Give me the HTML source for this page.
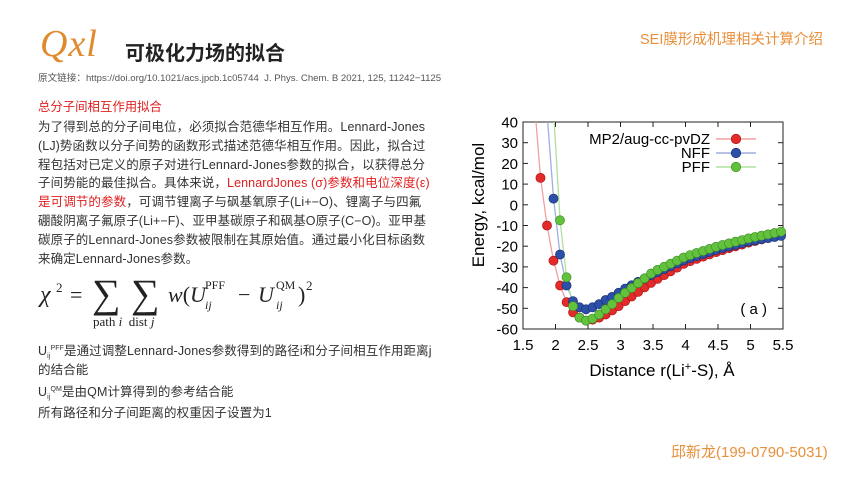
<!DOCTYPE html>
<html><head><meta charset="utf-8"><style>
body{margin:0;width:860px;height:484px;background:#fff;position:relative;overflow:hidden;font-family:"Liberation Sans","Noto Sans CJK SC",sans-serif;color:#222}
.a{position:absolute;white-space:nowrap}
.p{position:absolute;left:38px;font-size:12.5px;line-height:18.8px;color:#333;white-space:nowrap;letter-spacing:0.1px}
.r{color:#e02020}
.m{position:absolute;font-family:'Liberation Serif',serif;color:#222;white-space:nowrap}
.ss{font-size:7px;position:relative;line-height:0}
</style></head><body>
<div class="a" style="left:40px;top:22px;font-family:'Liberation Serif',serif;font-style:italic;font-size:38px;color:#e08a2e;letter-spacing:1px">Qxl</div>
<div class="a" style="left:125px;top:37px;font-size:20px;font-weight:bold;color:#222">可极化力场的拟合</div>
<div class="a" style="left:640px;top:28px;font-size:14.5px;color:#e8903a">SEI膜形成机理相关计算介绍</div>
<div class="a" style="left:38px;top:70px;font-size:9.6px;color:#555">原文链接：https://doi.org/10.1021/acs.jpcb.1c05744&nbsp; J. Phys. Chem. B 2021, 125, 11242−1125</div>
<div class="a r" style="left:38px;top:97px;font-size:12.4px">总分子间相互作用拟合</div>
<div class="p" style="top:118px">为了得到总的分子间电位，必须拟合范德华相互作用。Lennard-Jones<br>(LJ)势函数以分子间势的函数形式描述范德华相互作用。因此，拟合过<br>程包括对已定义的原子对进行Lennard-Jones参数的拟合，以获得总分<br>子间势能的最佳拟合。具体来说，<span class="r">LennardJones (σ)参数和电位深度(ε)</span><br><span class="r">是可调节的参数</span>，可调节锂离子与砜基氧原子(Li+−O)、锂离子与四氟<br>硼酸阴离子氟原子(Li+−F)、亚甲基碳原子和砜基O原子(C−O)。亚甲基<br>碳原子的Lennard-Jones参数被限制在其原始值。通过最小化目标函数<br>来确定Lennard-Jones参数。</div>

<div class="m" style="left:40px;top:282px;font-size:24px"><i>χ</i></div>
<div class="m" style="left:56px;top:280px;font-size:13px">2</div>
<div class="m" style="left:70px;top:282px;font-size:22px">=</div>
<div class="m" style="left:92px;top:270px;font-size:40px">∑</div>
<div class="m" style="left:131px;top:270px;font-size:40px">∑</div>
<div class="m" style="left:168px;top:282px;font-size:22px"><i>w</i>(<i>U</i></div>
<div class="m" style="left:205px;top:278px;font-size:12px">PFF</div>
<div class="m" style="left:205px;top:298px;font-size:12px"><i>ij</i></div>
<div class="m" style="left:238px;top:282px;font-size:22px">−</div>
<div class="m" style="left:258px;top:282px;font-size:22px"><i>U</i></div>
<div class="m" style="left:276px;top:278px;font-size:12px">QM</div>
<div class="m" style="left:276px;top:298px;font-size:12px"><i>ij</i></div>
<div class="m" style="left:298px;top:282px;font-size:22px">)</div>
<div class="m" style="left:306px;top:278px;font-size:13px">2</div>
<div class="m" style="left:93px;top:314px;font-size:13px">path <i>i</i>&nbsp; dist <i>j</i></div>

<div class="p" style="top:342px">U<span class="ss" style="top:3px">ij</span><span class="ss" style="top:-5px">PFF</span>是通过调整Lennard-Jones参数得到的路径i和分子间相互作用距离j<br>的结合能</div>
<div class="p" style="top:383px">U<span class="ss" style="top:3px">ij</span><span class="ss" style="top:-5px">QM</span>是由QM计算得到的参考结合能</div>
<div class="p" style="top:404px">所有路径和分子间距离的权重因子设置为1</div>
<div class="a" style="left:671px;top:441px;font-size:15px;color:#e8903a">邱新龙(199-0790-5031)</div>
<svg id="s" class="a" style="left:0;top:0" width="860" height="484"></svg>
<script>
var L=523,R=783,T=122,B=329;
function X(x){return L+(x-1.5)*65}function Y(y){return T+(40-y)*2.07}
var h='<rect x="'+L+'" y="'+T+'" width="'+(R-L)+'" height="'+(B-T)+'" fill="none" stroke="#222" stroke-width="1"/>';
var f='font-family="Liberation Sans,sans-serif"';
for(var v=40;v>=-60;v-=10){var y=Y(v);h+='<line x1="'+L+'" y1="'+y+'" x2="'+(L+5)+'" y2="'+y+'" stroke="#222"/><line x1="'+R+'" y1="'+y+'" x2="'+(R-5)+'" y2="'+y+'" stroke="#222"/><text x="'+(L-5)+'" y="'+(y+5.5)+'" text-anchor="end" font-size="15" '+f+'>'+v+'</text>';}
for(var x=1.5;x<=5.51;x+=0.5){var xx=X(x);h+='<line x1="'+xx+'" y1="'+B+'" x2="'+xx+'" y2="'+(B-5)+'" stroke="#222"/><line x1="'+xx+'" y1="'+T+'" x2="'+xx+'" y2="'+(T+5)+'" stroke="#222"/><text x="'+xx+'" y="'+(B+21)+'" text-anchor="middle" font-size="15" '+f+'>'+(Math.round(x*10)/10)+'</text>';}
h+='<text x="662" y="376" text-anchor="middle" font-size="17" '+f+'>Distance r(Li<tspan font-size="11" dy="-6">+</tspan><tspan dy="6">-S), Å</tspan></text>';
h+='<text transform="translate(484,205) rotate(-90)" text-anchor="middle" font-size="17" '+f+'>Energy, kcal/mol</text>';
h+='<text x="767" y="314" text-anchor="end" font-size="15" '+f+'>( a )</text>';
function interp(k,x){for(var i=0;i<k.length-1;i++){if(x<=k[i+1][0]){var t=(x-k[i][0])/(k[i+1][0]-k[i][0]);return k[i][1]+t*(k[i+1][1]-k[i][1]);}}return k[k.length-1][1];}
var S=[
{c:'#e42a2a',e:'#a01010',l:'#f0a0a0',s:1.77,k:[[1.70,40],[1.77,13],[1.87,-10],[1.97,-27],[2.07,-39],[2.17,-47],[2.27,-52],[2.37,-54.5],[2.47,-56],[2.57,-55.5],[2.67,-54.5],[2.77,-53],[2.87,-51],[2.97,-49],[3.07,-46.5],[3.5,-37],[4,-28],[4.5,-22.5],[5,-18],[5.47,-14.5]]},
{c:'#2c4fa8',e:'#152c70',l:'#a0aee0',s:1.97,k:[[1.88,40],[1.97,3],[2.07,-24],[2.17,-39],[2.27,-46.5],[2.37,-49.5],[2.47,-50.5],[2.57,-49.5],[2.67,-48],[2.77,-46],[2.87,-44.5],[2.97,-42.5],[3.07,-40.5],[3.5,-33.5],[4,-26.5],[4.5,-21.5],[5,-17.5],[5.47,-15]]},
{c:'#62c23e',e:'#3a8a20',l:'#b0e0a0',s:2.07,k:[[1.98,40],[2.07,-7.5],[2.17,-35],[2.27,-49],[2.37,-54.5],[2.47,-56],[2.57,-55],[2.67,-53],[2.77,-50.5],[2.87,-48],[2.97,-45],[3.07,-42.5],[3.5,-32.5],[4,-25],[4.5,-20],[5,-16],[5.47,-13]]}];
S.forEach(function(s){var d='';for(var x=s.k[0][0];x<=5.5;x+=0.02){d+=(d?'L':'M')+X(x).toFixed(1)+','+Y(interp(s.k,x)).toFixed(1);}h+='<path d="'+d+'" fill="none" stroke="'+s.l+'" stroke-width="1.3"/>';});
S.forEach(function(s){for(var x=s.s;x<5.5;x+=0.1){h+='<circle cx="'+X(x).toFixed(1)+'" cy="'+Y(interp(s.k,x)).toFixed(1)+'" r="4.6" fill="'+s.c+'" stroke="'+s.e+'" stroke-width="0.6"/>';}});
var lg=[['MP2/aug-cc-pvDZ',0],['NFF',1],['PFF',2]];
lg.forEach(function(g,i){var y=139+i*14;var s=S[g[1]];h+='<text x="710" y="'+(y+5)+'" text-anchor="end" font-size="15" '+f+'>'+g[0]+'</text><line x1="716" y1="'+y+'" x2="756" y2="'+y+'" stroke="'+s.l+'" stroke-width="1.5"/><circle cx="736" cy="'+y+'" r="4.8" fill="'+s.c+'" stroke="'+s.e+'" stroke-width="0.6"/>';});
document.getElementById('s').innerHTML=h;
</script>
</body></html>
